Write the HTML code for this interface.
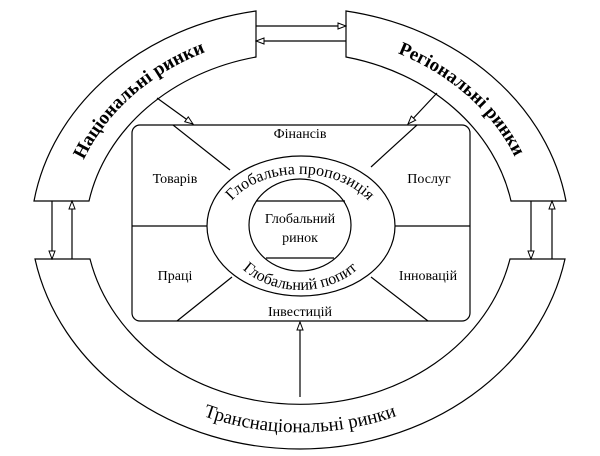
<!DOCTYPE html>
<html><head><meta charset="utf-8"><style>
html,body{margin:0;padding:0;background:#fff;}
svg{display:block;}
text{font-family:"Liberation Serif","DejaVu Serif",serif;fill:#000;}
</style></head><body>
<svg width="600" height="456" viewBox="0 0 600 456" xmlns="http://www.w3.org/2000/svg" font-family="Liberation Serif, DejaVu Serif, serif">
<defs>
<marker id="ah" markerWidth="10" markerHeight="8" refX="9" refY="4" orient="auto" markerUnits="userSpaceOnUse">
<path d="M1,1 L9,4 L1,7 Z" fill="#fff" stroke="#000" stroke-width="1"/>
</marker>
<path id="pNat" d="M68,210 A238,203 0 0,1 256,38"/>
<path id="pReg" d="M344,38 A238,203 0 0,1 532,210"/>
<path id="pTr" d="M54.5,262 A250,210 0 0,0 545.5,262"/>
<path id="pSup" d="M220,230 A80,56 0 0,1 380,230"/>
<path id="pDem" d="M222,226 A78,64 0 0,0 378,226"/>
</defs>
<g fill="none" stroke="#000" stroke-width="1.2">
<path d="M256,11 A270,230 0 0,0 34,201 L89,201 A216,183 0 0,1 256,57 Z" fill="#fff"/>
<path d="M346,11 A270,230 0 0,1 566,201 L511,201 A216,183 0 0,0 346,57 Z" fill="#fff"/>
<path d="M35,259 A270,235 0 0,0 565,259 L510,259 A215,185 0 0,1 90,259 Z" fill="#fff"/>
<line x1="256" y1="26" x2="346" y2="26" marker-end="url(#ah)"/>
<line x1="346" y1="41" x2="256" y2="41" marker-end="url(#ah)"/>
<line x1="52" y1="201" x2="52" y2="259" marker-end="url(#ah)"/>
<line x1="72" y1="259" x2="72" y2="201" marker-end="url(#ah)"/>
<line x1="531" y1="201" x2="531" y2="259" marker-end="url(#ah)"/>
<line x1="552" y1="259" x2="552" y2="201" marker-end="url(#ah)"/>
<line x1="157" y1="98" x2="193" y2="124" marker-end="url(#ah)"/>
<line x1="437" y1="93" x2="408" y2="124" marker-end="url(#ah)"/>
<line x1="300" y1="397" x2="300" y2="322" marker-end="url(#ah)"/>
<rect x="132" y="125" width="338" height="196" rx="8" ry="8"/>
<line x1="132" y1="226" x2="207" y2="226"/>
<line x1="395" y1="226" x2="470" y2="226"/>
<line x1="173" y1="125" x2="230" y2="170"/>
<line x1="417" y1="125" x2="371" y2="167"/>
<line x1="177" y1="321" x2="232" y2="277"/>
<line x1="428" y1="321" x2="371" y2="277"/>
<ellipse cx="301" cy="226" rx="94" ry="70" fill="#fff"/>
<ellipse cx="300" cy="225" rx="51" ry="46"/>
<line x1="256" y1="201" x2="345" y2="201"/>
<line x1="266" y1="258" x2="334" y2="258"/>
</g>
<g font-size="14" text-anchor="middle">
<text x="300" y="138">Фінансів</text>
<text x="175" y="183">Товарів</text>
<text x="429" y="183">Послуг</text>
<text x="175" y="280">Праці</text>
<text x="428" y="280">Інновацій</text>
<text x="300" y="316">Інвестицій</text>
<text x="300" y="223">Глобальний</text>
<text x="300" y="242">ринок</text>
</g>
<g font-size="16" text-anchor="middle">
<text><textPath href="#pSup" startOffset="50%">Глобальна пропозиція</textPath></text>
<text><textPath href="#pDem" startOffset="50%">Глобальний попит</textPath></text>
</g>
<g font-size="19" font-weight="bold" text-anchor="middle">
<text><textPath href="#pNat" startOffset="50%">Національні ринки</textPath></text>
<text><textPath href="#pReg" startOffset="50%">Регіональні ринки</textPath></text>
</g>
<g font-size="19" text-anchor="middle">
<text><textPath href="#pTr" startOffset="50%">Транснаціональні ринки</textPath></text>
</g>
</svg>
</body></html>
